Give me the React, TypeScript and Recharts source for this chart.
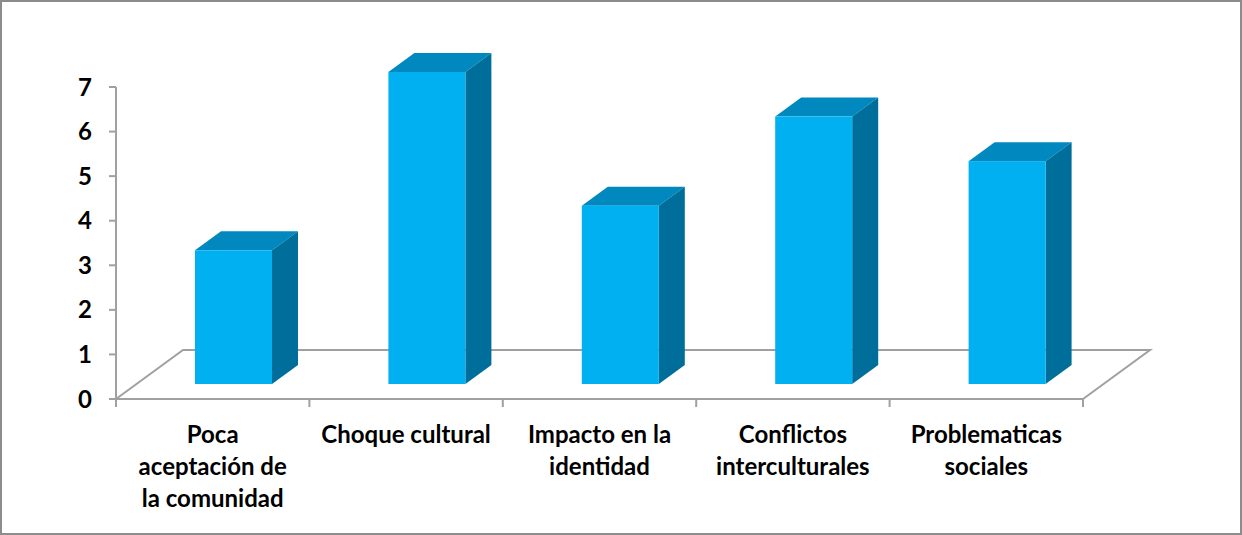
import { BarChart, Bar, XAxis, YAxis, ReferenceArea } from 'recharts';

const categories = [
  'Poca aceptación de la comunidad',
  'Choque cultural',
  'Impacto en la identidad',
  'Conflictos interculturales',
  'Problematicas sociales',
];
const labelLines = [
  ['Poca', 'aceptación de', 'la comunidad'],
  ['Choque cultural'],
  ['Impacto en la', 'identidad'],
  ['Conflictos', 'interculturales'],
  ['Problematicas', 'sociales'],
];
const values = [3, 7, 4, 6, 5];
const yTicks = [0, 1, 2, 3, 4, 5, 6, 7];

const data = categories.map((name, i) => ({ name, value: values[i], lines: labelLines[i] }));

const W = 1242;
const H = 535;
const margin = { top: 87, right: 159, bottom: 0, left: 56 };
const Y_AXIS_W = 60;
const bandW = (W - margin.left - Y_AXIS_W - margin.right) / categories.length;

// 3D look: floor depth, bar placement inside the floor, bar depth
const FLOOR_DX = 67;
const FLOOR_DY = 49;
const BAR_DX = 21;
const BAR_DY = 15;
const SIDE_DX = 26;
const SIDE_DY = 19;

const FRONT = '#00b0f0';
const TOP = '#0088bf';
const SIDE = '#006e9a';
const LINE = '#a0a0a0';
const FONT = 'Lato, "Open Sans", sans-serif';
const FS = 24;

function Bar3D(props: any) {
  const { x, y, width, height } = props;
  const fx = x + BAR_DX;
  const fy = y - BAR_DY;
  const by = y + height - BAR_DY;
  const rx = fx + width;
  return (
    <g>
      <polygon
        points={`${fx},${fy} ${fx + SIDE_DX},${fy - SIDE_DY} ${rx + SIDE_DX},${fy - SIDE_DY} ${rx},${fy}`}
        fill={TOP}
      />
      <polygon
        points={`${rx},${fy} ${rx + SIDE_DX},${fy - SIDE_DY} ${rx + SIDE_DX},${by - SIDE_DY} ${rx},${by}`}
        fill={SIDE}
      />
      <rect x={fx} y={fy} width={width} height={by - fy} fill={FRONT} />
    </g>
  );
}

function Floor(props: any) {
  const { x, y, width, height } = props;
  const b = y + height;
  return (
    <polyline
      points={`${x},${b} ${x + FLOOR_DX},${b - FLOOR_DY} ${x + width + FLOOR_DX},${b - FLOOR_DY} ${x + width},${b}`}
      fill="none"
      stroke={LINE}
      strokeWidth={2}
    />
  );
}

function CategoryTick(props: any) {
  const { x, y, payload, index } = props;
  const lines: string[] = labelLines[index] || [payload.value];
  const left = x - bandW / 2;
  return (
    <g>
      <line x1={left} y1={y} x2={left} y2={y + 8} stroke={LINE} strokeWidth={2} />
      {index === categories.length - 1 && (
        <line x1={left + bandW} y1={y} x2={left + bandW} y2={y + 8} stroke={LINE} strokeWidth={2} />
      )}
      <text
        x={x}
        y={y + 44}
        textAnchor="middle"
        fontFamily={FONT}
        fontWeight="bold"
        fontSize={FS}
        fill="#000"
      >
        {lines.map((l, i) => (
          <tspan key={i} x={x} dy={i === 0 ? 0 : 32}>
            {l}
          </tspan>
        ))}
      </text>
    </g>
  );
}

export default function App() {
  return (
    <div style={{ position: 'absolute', left: 0, top: 0, width: W, height: H, background: '#fff' }}>
      <BarChart width={W} height={H} data={data} margin={margin} barSize={77}>
        <XAxis
          dataKey="name"
          interval={0}
          height={136}
          tickLine={false}
          tickSize={0}
          tickMargin={0}
          axisLine={{ stroke: LINE, strokeWidth: 2 }}
          tick={<CategoryTick />}
        />
        <YAxis
          domain={[0, 7]}
          ticks={yTicks}
          interval={0}
          width={Y_AXIS_W}
          tickSize={7}
          tickMargin={17}
          axisLine={{ stroke: LINE, strokeWidth: 2 }}
          tickLine={{ stroke: LINE, strokeWidth: 2 }}
          tick={{ fill: '#000', fontFamily: FONT, fontWeight: 'bold', fontSize: FS }}
        />
        <ReferenceArea y1={0} y2={1} ifOverflow="visible" shape={<Floor />} />
        <Bar dataKey="value" shape={<Bar3D />} isAnimationActive={false} />
      </BarChart>
      <div
        style={{
          position: 'absolute',
          left: 0,
          top: 0,
          width: W,
          height: H,
          boxSizing: 'border-box',
          border: '2px solid #8c8c8c',
          pointerEvents: 'none',
        }}
      />
    </div>
  );
}
